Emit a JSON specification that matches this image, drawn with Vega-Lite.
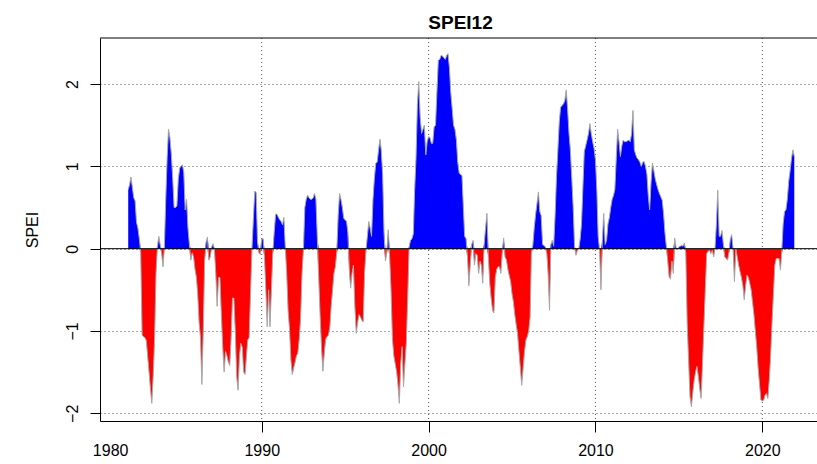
{
"$schema": "https://vega.github.io/schema/vega-lite/v6.json",
"width": 717, "height": 383,
"autosize": {"type": "none"},
"padding": {"left": 100, "top": 38, "right": 0, "bottom": 43},
"background": "white",
"config": {"font": "Liberation Sans", "view": {"stroke": null}},
"title": {"text": "SPEI12", "fontSize": 19, "fontWeight": "bold", "color": "black", "frame": "group", "anchor": "middle", "baseline": "alphabetic", "offset": 14, "dx": 2, "dy": 24},
"data": {"values": [
{"d":"1982-01","v":0.72},{"d":"1982-02","v":0.78},{"d":"1982-03","v":0.87},{"d":"1982-04","v":0.75},{"d":"1982-05","v":0.62},{"d":"1982-06","v":0.58},{"d":"1982-07","v":0.32},{"d":"1982-08","v":0.25},{"d":"1982-09","v":0.12},{"d":"1982-10","v":-0.05},{"d":"1982-11","v":-1.05},{"d":"1982-12","v":-1.07},
{"d":"1983-01","v":-1.08},{"d":"1983-02","v":-1.12},{"d":"1983-03","v":-1.3},{"d":"1983-04","v":-1.5},{"d":"1983-05","v":-1.7},{"d":"1983-06","v":-1.88},{"d":"1983-07","v":-1.55},{"d":"1983-08","v":-1.1},{"d":"1983-09","v":-0.3},{"d":"1983-10","v":0.02},{"d":"1983-11","v":0.15},{"d":"1983-12","v":0.05},
{"d":"1984-01","v":-0.05},{"d":"1984-02","v":-0.22},{"d":"1984-03","v":0.0},{"d":"1984-04","v":0.6},{"d":"1984-05","v":1.1},{"d":"1984-06","v":1.45},{"d":"1984-07","v":1.35},{"d":"1984-08","v":1.15},{"d":"1984-09","v":0.85},{"d":"1984-10","v":0.5},{"d":"1984-11","v":0.5},{"d":"1984-12","v":0.52},
{"d":"1985-01","v":0.85},{"d":"1985-02","v":0.98},{"d":"1985-03","v":1.0},{"d":"1985-04","v":1.02},{"d":"1985-05","v":0.93},{"d":"1985-06","v":0.47},{"d":"1985-07","v":0.6},{"d":"1985-08","v":0.25},{"d":"1985-09","v":0.05},{"d":"1985-10","v":-0.14},{"d":"1985-11","v":-0.05},{"d":"1985-12","v":-0.1},
{"d":"1986-01","v":-0.25},{"d":"1986-02","v":-0.35},{"d":"1986-03","v":-0.55},{"d":"1986-04","v":-0.9},{"d":"1986-05","v":-1.08},{"d":"1986-06","v":-1.65},{"d":"1986-07","v":-1.0},{"d":"1986-08","v":-0.14},{"d":"1986-09","v":0.08},{"d":"1986-10","v":0.14},{"d":"1986-11","v":-0.14},{"d":"1986-12","v":-0.1},
{"d":"1987-01","v":0.02},{"d":"1987-02","v":0.06},{"d":"1987-03","v":0.0},{"d":"1987-04","v":-0.3},{"d":"1987-05","v":-0.7},{"d":"1987-06","v":-0.35},{"d":"1987-07","v":-0.35},{"d":"1987-08","v":-0.8},{"d":"1987-09","v":-1.2},{"d":"1987-10","v":-1.5},{"d":"1987-11","v":-1.25},{"d":"1987-12","v":-1.3},
{"d":"1988-01","v":-1.38},{"d":"1988-02","v":-1.42},{"d":"1988-03","v":-1.1},{"d":"1988-04","v":-0.6},{"d":"1988-05","v":-0.6},{"d":"1988-06","v":-1.0},{"d":"1988-07","v":-1.55},{"d":"1988-08","v":-1.72},{"d":"1988-09","v":-1.3},{"d":"1988-10","v":-1.15},{"d":"1988-11","v":-1.2},{"d":"1988-12","v":-1.5},
{"d":"1989-01","v":-1.53},{"d":"1989-02","v":-1.3},{"d":"1989-03","v":-1.11},{"d":"1989-04","v":-1.08},{"d":"1989-05","v":-0.55},{"d":"1989-06","v":0.0},{"d":"1989-07","v":0.35},{"d":"1989-08","v":0.7},{"d":"1989-09","v":0.68},{"d":"1989-10","v":0.08},{"d":"1989-11","v":-0.05},{"d":"1989-12","v":-0.07},
{"d":"1990-01","v":0.12},{"d":"1990-02","v":0.12},{"d":"1990-03","v":-0.1},{"d":"1990-04","v":-0.5},{"d":"1990-05","v":-0.95},{"d":"1990-06","v":-0.5},{"d":"1990-07","v":-0.95},{"d":"1990-08","v":-0.5},{"d":"1990-09","v":-0.05},{"d":"1990-10","v":0.2},{"d":"1990-11","v":0.42},{"d":"1990-12","v":0.42},
{"d":"1991-01","v":0.38},{"d":"1991-02","v":0.35},{"d":"1991-03","v":0.33},{"d":"1991-04","v":0.29},{"d":"1991-05","v":0.38},{"d":"1991-06","v":0.02},{"d":"1991-07","v":-0.3},{"d":"1991-08","v":-0.75},{"d":"1991-09","v":-0.98},{"d":"1991-10","v":-1.35},{"d":"1991-11","v":-1.53},{"d":"1991-12","v":-1.45},
{"d":"1992-01","v":-1.38},{"d":"1992-02","v":-1.3},{"d":"1992-03","v":-1.27},{"d":"1992-04","v":-1.1},{"d":"1992-05","v":-0.85},{"d":"1992-06","v":-0.3},{"d":"1992-07","v":-0.02},{"d":"1992-08","v":0.5},{"d":"1992-09","v":0.6},{"d":"1992-10","v":0.65},{"d":"1992-11","v":0.62},{"d":"1992-12","v":0.6},
{"d":"1993-01","v":0.6},{"d":"1993-02","v":0.62},{"d":"1993-03","v":0.67},{"d":"1993-04","v":0.6},{"d":"1993-05","v":0.15},{"d":"1993-06","v":-0.35},{"d":"1993-07","v":-0.8},{"d":"1993-08","v":-1.2},{"d":"1993-09","v":-1.49},{"d":"1993-10","v":-1.27},{"d":"1993-11","v":-1.1},{"d":"1993-12","v":-1.07},
{"d":"1994-01","v":-1.05},{"d":"1994-02","v":-0.95},{"d":"1994-03","v":-0.7},{"d":"1994-04","v":-0.5},{"d":"1994-05","v":-0.3},{"d":"1994-06","v":-0.22},{"d":"1994-07","v":-0.05},{"d":"1994-08","v":0.4},{"d":"1994-09","v":0.67},{"d":"1994-10","v":0.6},{"d":"1994-11","v":0.5},{"d":"1994-12","v":0.37},
{"d":"1995-01","v":0.35},{"d":"1995-02","v":0.33},{"d":"1995-03","v":0.2},{"d":"1995-04","v":-0.25},{"d":"1995-05","v":-0.48},{"d":"1995-06","v":-0.3},{"d":"1995-07","v":-0.2},{"d":"1995-08","v":-0.7},{"d":"1995-09","v":-1.03},{"d":"1995-10","v":-0.9},{"d":"1995-11","v":-0.8},{"d":"1995-12","v":-0.83},
{"d":"1996-01","v":-0.87},{"d":"1996-02","v":-0.89},{"d":"1996-03","v":-0.3},{"d":"1996-04","v":-0.02},{"d":"1996-05","v":0.15},{"d":"1996-06","v":0.33},{"d":"1996-07","v":0.25},{"d":"1996-08","v":0.15},{"d":"1996-09","v":0.6},{"d":"1996-10","v":0.85},{"d":"1996-11","v":1.04},{"d":"1996-12","v":1.05},
{"d":"1997-01","v":1.2},{"d":"1997-02","v":1.33},{"d":"1997-03","v":1.2},{"d":"1997-04","v":0.9},{"d":"1997-05","v":0.2},{"d":"1997-06","v":-0.15},{"d":"1997-07","v":-0.05},{"d":"1997-08","v":0.23},{"d":"1997-09","v":-0.1},{"d":"1997-10","v":-0.5},{"d":"1997-11","v":-1.1},{"d":"1997-12","v":-1.3},
{"d":"1998-01","v":-1.4},{"d":"1998-02","v":-1.5},{"d":"1998-03","v":-1.65},{"d":"1998-04","v":-1.88},{"d":"1998-05","v":-1.4},{"d":"1998-06","v":-1.19},{"d":"1998-07","v":-1.68},{"d":"1998-08","v":-1.4},{"d":"1998-09","v":-1.15},{"d":"1998-10","v":-0.6},{"d":"1998-11","v":0.02},{"d":"1998-12","v":0.1},
{"d":"1999-01","v":0.12},{"d":"1999-02","v":0.18},{"d":"1999-03","v":0.7},{"d":"1999-04","v":1.1},{"d":"1999-05","v":1.75},{"d":"1999-06","v":2.03},{"d":"1999-07","v":1.6},{"d":"1999-08","v":1.4},{"d":"1999-09","v":1.45},{"d":"1999-10","v":1.5},{"d":"1999-11","v":1.14},{"d":"1999-12","v":1.3},
{"d":"2000-01","v":1.36},{"d":"2000-02","v":1.35},{"d":"2000-03","v":1.28},{"d":"2000-04","v":1.28},{"d":"2000-05","v":1.48},{"d":"2000-06","v":1.5},{"d":"2000-07","v":1.9},{"d":"2000-08","v":2.29},{"d":"2000-09","v":2.3},{"d":"2000-10","v":2.35},{"d":"2000-11","v":2.34},{"d":"2000-12","v":2.32},
{"d":"2001-01","v":2.3},{"d":"2001-02","v":2.35},{"d":"2001-03","v":2.37},{"d":"2001-04","v":2.2},{"d":"2001-05","v":1.9},{"d":"2001-06","v":1.7},{"d":"2001-07","v":1.5},{"d":"2001-08","v":1.45},{"d":"2001-09","v":1.32},{"d":"2001-10","v":1.05},{"d":"2001-11","v":0.92},{"d":"2001-12","v":0.9},
{"d":"2002-01","v":0.89},{"d":"2002-02","v":0.5},{"d":"2002-03","v":0.15},{"d":"2002-04","v":0.12},{"d":"2002-05","v":-0.1},{"d":"2002-06","v":-0.45},{"d":"2002-07","v":-0.2},{"d":"2002-08","v":0.05},{"d":"2002-09","v":0.1},{"d":"2002-10","v":-0.2},{"d":"2002-11","v":-0.06},{"d":"2002-12","v":-0.08},
{"d":"2003-01","v":-0.3},{"d":"2003-02","v":-0.15},{"d":"2003-03","v":-0.2},{"d":"2003-04","v":-0.42},{"d":"2003-05","v":0.05},{"d":"2003-06","v":0.25},{"d":"2003-07","v":0.43},{"d":"2003-08","v":-0.1},{"d":"2003-09","v":-0.42},{"d":"2003-10","v":-0.6},{"d":"2003-11","v":-0.75},{"d":"2003-12","v":-0.78},
{"d":"2004-01","v":-0.35},{"d":"2004-02","v":-0.25},{"d":"2004-03","v":-0.22},{"d":"2004-04","v":-0.22},{"d":"2004-05","v":-0.3},{"d":"2004-06","v":-0.05},{"d":"2004-07","v":0.13},{"d":"2004-08","v":-0.1},{"d":"2004-09","v":-0.14},{"d":"2004-10","v":-0.25},{"d":"2004-11","v":-0.33},{"d":"2004-12","v":-0.4},
{"d":"2005-01","v":-0.55},{"d":"2005-02","v":-0.65},{"d":"2005-03","v":-0.8},{"d":"2005-04","v":-0.92},{"d":"2005-05","v":-1.03},{"d":"2005-06","v":-1.25},{"d":"2005-07","v":-1.45},{"d":"2005-08","v":-1.66},{"d":"2005-09","v":-1.45},{"d":"2005-10","v":-1.25},{"d":"2005-11","v":-1.11},{"d":"2005-12","v":-1.07},
{"d":"2006-01","v":-1.0},{"d":"2006-02","v":-0.83},{"d":"2006-03","v":-0.05},{"d":"2006-04","v":0.04},{"d":"2006-05","v":0.25},{"d":"2006-06","v":0.42},{"d":"2006-07","v":0.55},{"d":"2006-08","v":0.69},{"d":"2006-09","v":0.45},{"d":"2006-10","v":0.4},{"d":"2006-11","v":0.05},{"d":"2006-12","v":0.04},
{"d":"2007-01","v":0.02},{"d":"2007-02","v":-0.06},{"d":"2007-03","v":-0.3},{"d":"2007-04","v":-0.75},{"d":"2007-05","v":0.05},{"d":"2007-06","v":0.1},{"d":"2007-07","v":0.03},{"d":"2007-08","v":0.4},{"d":"2007-09","v":0.88},{"d":"2007-10","v":1.2},{"d":"2007-11","v":1.55},{"d":"2007-12","v":1.72},
{"d":"2008-01","v":1.74},{"d":"2008-02","v":1.76},{"d":"2008-03","v":1.8},{"d":"2008-04","v":1.93},{"d":"2008-05","v":1.7},{"d":"2008-06","v":1.4},{"d":"2008-07","v":1.2},{"d":"2008-08","v":0.85},{"d":"2008-09","v":0.5},{"d":"2008-10","v":0.02},{"d":"2008-11","v":-0.08},{"d":"2008-12","v":-0.02},
{"d":"2009-01","v":0.0},{"d":"2009-02","v":0.12},{"d":"2009-03","v":0.3},{"d":"2009-04","v":0.75},{"d":"2009-05","v":1.18},{"d":"2009-06","v":1.25},{"d":"2009-07","v":1.32},{"d":"2009-08","v":1.4},{"d":"2009-09","v":1.52},{"d":"2009-10","v":1.4},{"d":"2009-11","v":1.3},{"d":"2009-12","v":1.22},
{"d":"2010-01","v":1.08},{"d":"2010-02","v":0.7},{"d":"2010-03","v":0.15},{"d":"2010-04","v":-0.02},{"d":"2010-05","v":-0.5},{"d":"2010-06","v":0.1},{"d":"2010-07","v":0.43},{"d":"2010-08","v":0.05},{"d":"2010-09","v":0.1},{"d":"2010-10","v":0.3},{"d":"2010-11","v":0.38},{"d":"2010-12","v":0.5},
{"d":"2011-01","v":0.6},{"d":"2011-02","v":0.65},{"d":"2011-03","v":0.72},{"d":"2011-04","v":1.1},{"d":"2011-05","v":1.45},{"d":"2011-06","v":1.3},{"d":"2011-07","v":1.12},{"d":"2011-08","v":1.25},{"d":"2011-09","v":1.32},{"d":"2011-10","v":1.3},{"d":"2011-11","v":1.3},{"d":"2011-12","v":1.31},
{"d":"2012-01","v":1.32},{"d":"2012-02","v":1.3},{"d":"2012-03","v":1.4},{"d":"2012-04","v":1.68},{"d":"2012-05","v":1.2},{"d":"2012-06","v":1.14},{"d":"2012-07","v":1.1},{"d":"2012-08","v":1.08},{"d":"2012-09","v":1.05},{"d":"2012-10","v":1.0},{"d":"2012-11","v":1.05},{"d":"2012-12","v":1.06},
{"d":"2013-01","v":1.0},{"d":"2013-02","v":0.9},{"d":"2013-03","v":0.65},{"d":"2013-04","v":0.47},{"d":"2013-05","v":0.8},{"d":"2013-06","v":1.04},{"d":"2013-07","v":0.95},{"d":"2013-08","v":0.85},{"d":"2013-09","v":0.78},{"d":"2013-10","v":0.72},{"d":"2013-11","v":0.67},{"d":"2013-12","v":0.63},
{"d":"2014-01","v":0.59},{"d":"2014-02","v":0.42},{"d":"2014-03","v":0.2},{"d":"2014-04","v":0.03},{"d":"2014-05","v":-0.15},{"d":"2014-06","v":-0.34},{"d":"2014-07","v":-0.37},{"d":"2014-08","v":-0.15},{"d":"2014-09","v":-0.3},{"d":"2014-10","v":0.13},{"d":"2014-11","v":0.01},{"d":"2014-12","v":0.0},
{"d":"2015-01","v":0.02},{"d":"2015-02","v":0.03},{"d":"2015-03","v":0.04},{"d":"2015-04","v":0.03},{"d":"2015-05","v":0.07},{"d":"2015-06","v":-0.05},{"d":"2015-07","v":-0.9},{"d":"2015-08","v":-1.35},{"d":"2015-09","v":-1.8},{"d":"2015-10","v":-1.92},{"d":"2015-11","v":-1.75},{"d":"2015-12","v":-1.6},
{"d":"2016-01","v":-1.5},{"d":"2016-02","v":-1.43},{"d":"2016-03","v":-1.55},{"d":"2016-04","v":-1.7},{"d":"2016-05","v":-1.82},{"d":"2016-06","v":-1.4},{"d":"2016-07","v":-0.95},{"d":"2016-08","v":-0.5},{"d":"2016-09","v":-0.06},{"d":"2016-10","v":-0.03},{"d":"2016-11","v":-0.02},{"d":"2016-12","v":-0.06},
{"d":"2017-01","v":-0.02},{"d":"2017-02","v":-0.1},{"d":"2017-03","v":0.0},{"d":"2017-04","v":0.3},{"d":"2017-05","v":0.71},{"d":"2017-06","v":0.15},{"d":"2017-07","v":0.15},{"d":"2017-08","v":0.22},{"d":"2017-09","v":0.05},{"d":"2017-10","v":-0.1},{"d":"2017-11","v":-0.12},{"d":"2017-12","v":-0.14},
{"d":"2018-01","v":-0.05},{"d":"2018-02","v":0.12},{"d":"2018-03","v":0.17},{"d":"2018-04","v":0.0},{"d":"2018-05","v":-0.4},{"d":"2018-06","v":0.0},{"d":"2018-07","v":-0.1},{"d":"2018-08","v":-0.2},{"d":"2018-09","v":-0.28},{"d":"2018-10","v":-0.35},{"d":"2018-11","v":-0.45},{"d":"2018-12","v":-0.62},
{"d":"2019-01","v":-0.45},{"d":"2019-02","v":-0.32},{"d":"2019-03","v":-0.35},{"d":"2019-04","v":-0.42},{"d":"2019-05","v":-0.5},{"d":"2019-06","v":-0.65},{"d":"2019-07","v":-0.8},{"d":"2019-08","v":-1.0},{"d":"2019-09","v":-1.2},{"d":"2019-10","v":-1.45},{"d":"2019-11","v":-1.65},{"d":"2019-12","v":-1.84},
{"d":"2020-01","v":-1.85},{"d":"2020-02","v":-1.84},{"d":"2020-03","v":-1.78},{"d":"2020-04","v":-1.76},{"d":"2020-05","v":-1.82},{"d":"2020-06","v":-1.6},{"d":"2020-07","v":-1.3},{"d":"2020-08","v":-0.9},{"d":"2020-09","v":-0.54},{"d":"2020-10","v":-0.2},{"d":"2020-11","v":-0.12},{"d":"2020-12","v":-0.12},
{"d":"2021-01","v":-0.12},{"d":"2021-02","v":-0.26},{"d":"2021-03","v":-0.05},{"d":"2021-04","v":0.3},{"d":"2021-05","v":0.45},{"d":"2021-06","v":0.47},{"d":"2021-07","v":0.6},{"d":"2021-08","v":0.82},{"d":"2021-09","v":0.95},{"d":"2021-10","v":1.1},{"d":"2021-11","v":1.2},{"d":"2021-12","v":1.12}
]},
"layer": [
{"data": {"values": [{"g": "1990-01-01"}, {"g": "2000-01-01"}, {"g": "2010-01-01"}, {"g": "2020-01-01"}]},
 "mark": {"type": "rule", "color": "#505050", "strokeDash": [1, 3], "strokeWidth": 1},
 "encoding": {
  "x": {"field": "g", "type": "temporal", "scale": {"domain": [{"year": 1980, "month": 4, "date": 23}, {"year": 2023, "month": 4, "date": 12}]},
    "axis": {"values": [{"year": 1980, "month": 12, "date": 1}, {"year": 1990, "month": 1, "date": 1}, {"year": 2000, "month": 1, "date": 1}, {"year": 2010, "month": 1, "date": 1}, {"year": 2020, "month": 1, "date": 1}],
     "labelExpr": "year(datum.value) < 1985 ? '1980' : timeFormat(datum.value, '%Y')",
     "title": null, "grid": false,
     "tickOpacity": {"condition": {"test": "year(datum.value) < 1985", "value": 0}, "value": 1},
     "tickSize": 11, "tickColor": "black", "tickWidth": 1, "domainColor": "black", "domainWidth": 1,
     "labelFontSize": 16, "labelColor": "black", "labelPadding": 10, "labelFlush": false, "labelOverlap": false, "labelBound": false}}
 }},
{"mark": {"type": "area", "color": "#0000FF", "interpolate": "linear"},
 "encoding": {
  "x": {"field": "d", "type": "temporal", "scale": {"domain": [{"year": 1980, "month": 4, "date": 23}, {"year": 2023, "month": 4, "date": 12}]},
    "axis": {"values": [{"year": 1980, "month": 12, "date": 1}, {"year": 1990, "month": 1, "date": 1}, {"year": 2000, "month": 1, "date": 1}, {"year": 2010, "month": 1, "date": 1}, {"year": 2020, "month": 1, "date": 1}],
     "labelExpr": "year(datum.value) < 1985 ? '1980' : timeFormat(datum.value, '%Y')",
     "title": null, "grid": false,
     "tickOpacity": {"condition": {"test": "year(datum.value) < 1985", "value": 0}, "value": 1},
     "tickSize": 11, "tickColor": "black", "tickWidth": 1, "domainColor": "black", "domainWidth": 1,
     "labelFontSize": 16, "labelColor": "black", "labelPadding": 10, "labelFlush": false, "labelOverlap": false, "labelBound": false}},
  "y": {"field": "v", "type": "quantitative", "scale": {"domain": [0, 2.56], "range": [210.7, 0], "clamp": true, "nice": false, "zero": false}, "axis": null},
  "y2": {"datum": 0}
 }},
{"mark": {"type": "area", "color": "#FF0000", "interpolate": "linear"},
 "encoding": {
  "x": {"field": "d", "type": "temporal", "scale": {"domain": [{"year": 1980, "month": 4, "date": 23}, {"year": 2023, "month": 4, "date": 12}]},
    "axis": {"values": [{"year": 1980, "month": 12, "date": 1}, {"year": 1990, "month": 1, "date": 1}, {"year": 2000, "month": 1, "date": 1}, {"year": 2010, "month": 1, "date": 1}, {"year": 2020, "month": 1, "date": 1}],
     "labelExpr": "year(datum.value) < 1985 ? '1980' : timeFormat(datum.value, '%Y')",
     "title": null, "grid": false,
     "tickOpacity": {"condition": {"test": "year(datum.value) < 1985", "value": 0}, "value": 1},
     "tickSize": 11, "tickColor": "black", "tickWidth": 1, "domainColor": "black", "domainWidth": 1,
     "labelFontSize": 16, "labelColor": "black", "labelPadding": 10, "labelFlush": false, "labelOverlap": false, "labelBound": false}},
  "y": {"field": "v", "type": "quantitative", "scale": {"domain": [-2.094, 0], "range": [383, 210.7], "clamp": true, "nice": false, "zero": false}, "axis": null},
  "y2": {"datum": 0}
 }},
{"layer": [
 {"mark": {"type": "line", "color": "#A8A8A8", "strokeWidth": 1},
  "encoding": {
   "x": {"field": "d", "type": "temporal", "scale": {"domain": [{"year": 1980, "month": 4, "date": 23}, {"year": 2023, "month": 4, "date": 12}]},
    "axis": {"values": [{"year": 1980, "month": 12, "date": 1}, {"year": 1990, "month": 1, "date": 1}, {"year": 2000, "month": 1, "date": 1}, {"year": 2010, "month": 1, "date": 1}, {"year": 2020, "month": 1, "date": 1}],
     "labelExpr": "year(datum.value) < 1985 ? '1980' : timeFormat(datum.value, '%Y')",
     "title": null, "grid": false,
     "tickOpacity": {"condition": {"test": "year(datum.value) < 1985", "value": 0}, "value": 1},
     "tickSize": 11, "tickColor": "black", "tickWidth": 1, "domainColor": "black", "domainWidth": 1,
     "labelFontSize": 16, "labelColor": "black", "labelPadding": 10, "labelFlush": false, "labelOverlap": false, "labelBound": false}},
   "y": {"field": "v", "type": "quantitative", "scale": {"domain": [-2.094, 2.56], "nice": false, "zero": false},
    "axis": {"orient": "left", "values": [-2, -1, 0, 1, 2], "format": "d", "title": "SPEI", "titleFontSize": 16, "titleFontWeight": "normal", "titleColor": "black", "titlePadding": 24,
     "labelAngle": -90, "labelAlign": "center", "labelBaseline": "alphabetic", "labelPadding": 13, "labelFontSize": 16, "labelColor": "black",
     "tickSize": 10, "tickColor": "black", "tickWidth": 1, "domainColor": "black", "domainWidth": 1,
     "grid": true, "gridColor": "#505050", "gridDash": [1, 3], "gridWidth": 1, "labelFlush": false, "labelOverlap": false}}
  }},
 {"data": {"values": [{"r": 0}]}, "mark": {"type": "rule", "color": "black", "strokeWidth": 1}, "encoding": {"y": {"datum": 0}}},
 {"data": {"values": [{"r": 2.56}]}, "mark": {"type": "rule", "color": "black", "strokeWidth": 1}, "encoding": {"y": {"datum": 2.56}}}
]}
],
"resolve": {"scale": {"y": "independent"}}
}
